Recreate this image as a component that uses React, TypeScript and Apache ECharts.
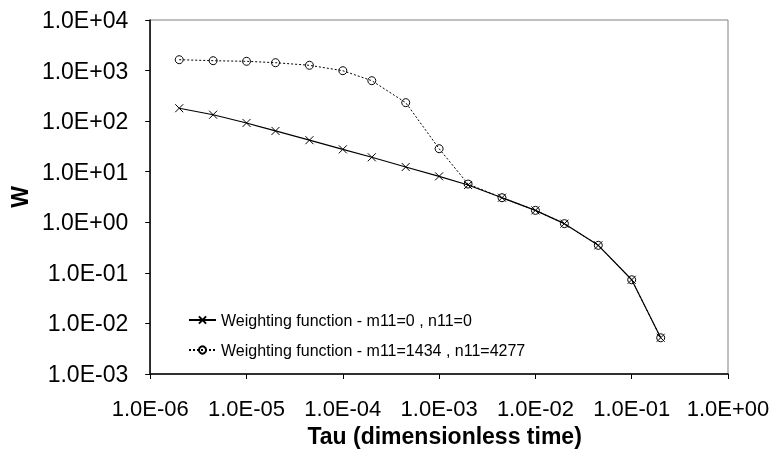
import React, { useEffect, useRef } from "react";
import * as echarts from "echarts";

const tau = [2e-6, 4.5e-6, 1e-5, 2e-5, 4.5e-5, 1e-4, 2e-4, 4.5e-4, 1e-3, 2e-3, 4.5e-3, 1e-2, 2e-2, 4.5e-2, 1e-1, 2e-1];
const wPlain = [180, 134, 92, 64, 42, 27.7, 19.3, 12.4, 8.1, 5.45, 3.06, 1.72, 0.94, 0.35, 0.073, 0.0052];
const wWeighted = [1640, 1567, 1525, 1431, 1271, 994, 631, 232, 28.5, 5.7, 3.06, 1.72, 0.94, 0.35, 0.073, 0.0052];
const seriesNames = ["Weighting function - m11=0 , n11=0", "Weighting function - m11=1434 , n11=4277"];
const xTickLabels = ["1.0E-06", "1.0E-05", "1.0E-04", "1.0E-03", "1.0E-02", "1.0E-01", "1.0E+00"];
const yTickLabels = ["1.0E-03", "1.0E-02", "1.0E-01", "1.0E+00", "1.0E+01", "1.0E+02", "1.0E+03", "1.0E+04"];

const FONT = "'Liberation Sans', Arial, sans-serif";

const fmt = (labels: string[], minExp: number) => (v: number) => {
  const e = Math.round(Math.log10(v));
  return labels[e - minExp] ?? "";
};

export default function App() {
  const ref = useRef<HTMLDivElement>(null);
  useEffect(() => {
    if (!ref.current) return;
    const chart = echarts.init(ref.current, undefined, { renderer: "svg" });
    chart.setOption({
      animation: false,
      textStyle: { fontFamily: FONT },
      grid: { left: 140, right: 46, top: 20, bottom: 78, show: true, borderColor: "#808080", borderWidth: 1 },
      legend: {
        orient: "vertical",
        left: 183,
        top: 307,
        itemWidth: 27,
        itemHeight: 9,
        itemGap: 14,
        textStyle: { fontSize: 16, color: "#000", fontFamily: FONT },
        data: seriesNames,
      },
      xAxis: {
        type: "log",
        logBase: 10,
        min: 1e-6,
        max: 1,
        splitNumber: 6,
        axisLine: { lineStyle: { color: "#000", width: 1.5 } },
        axisTick: { length: 5, lineStyle: { color: "#000" } },
        axisLabel: { fontSize: 22, color: "#000", margin: 23, formatter: fmt(xTickLabels, -6) },
        splitLine: { show: false },
        minorTick: { show: false },
        name: "Tau (dimensionless time)",
        nameLocation: "middle",
        nameGap: 50,
        nameTextStyle: { fontWeight: "bold", fontSize: 23, color: "#000", fontFamily: FONT, padding: [0, 0, 0, 11] },
      },
      yAxis: {
        type: "log",
        logBase: 10,
        min: 1e-3,
        max: 1e4,
        splitNumber: 7,
        axisLine: { lineStyle: { color: "#000", width: 1.5 } },
        axisTick: { length: 5, lineStyle: { color: "#000" } },
        axisLabel: { fontSize: 23, color: "#000", margin: 22, formatter: fmt(yTickLabels, -3) },
        splitLine: { show: false },
        name: "W",
        nameLocation: "middle",
        nameGap: 106,
        nameTextStyle: { fontWeight: "bold", fontSize: 23, color: "#000", fontFamily: FONT },
      },
      series: [
        {
          name: seriesNames[0],
          type: "line",
          data: tau.map((t, i) => [t, wPlain[i]]),
          symbol: "path://M0,0L10,10M10,0L0,10",
          symbolSize: 8,
          lineStyle: { color: "#000", width: 1.2, type: "solid" },
          itemStyle: { color: "#000", borderColor: "#000", borderWidth: 1 },
          z: 2,
        },
        {
          name: seriesNames[1],
          type: "line",
          data: tau.map((t, i) => [t, wWeighted[i]]),
          symbol: "circle",
          symbolSize: 8,
          lineStyle: { color: "#000", width: 1, type: [2, 2] },
          itemStyle: { color: "rgba(255,255,255,0)", borderColor: "#000", borderWidth: 1 },
          z: 3,
        },
      ],
    });
    return () => chart.dispose();
  }, []);
  return <div ref={ref} style={{ position: "fixed", left: 0, top: 0, width: 774, height: 452 }} />;
}
